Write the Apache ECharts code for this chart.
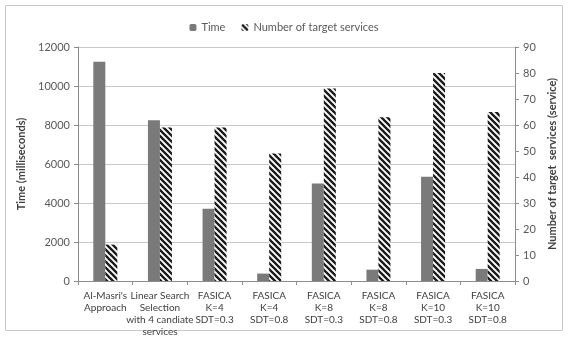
<!DOCTYPE html>
<html>
<head>
<meta charset="utf-8">
<script src="https://cdn.jsdelivr.net/npm/echarts@6/dist/echarts.min.js"></script>
<style>
  html, body { margin: 0; padding: 0; background: #fff; }
  #chart { width: 568px; height: 339px; }
</style>
</head>
<body>
<div id="chart"></div>
<script>
// Approaches compared
const categories = [
  "Al-Masri's\nApproach",
  "Linear Search\nSelection\nwith 4 candiate\nservices",
  "FASICA\nK=4\nSDT=0.3",
  "FASICA\nK=4\nSDT=0.8",
  "FASICA\nK=8\nSDT=0.3",
  "FASICA\nK=8\nSDT=0.8",
  "FASICA\nK=10\nSDT=0.3",
  "FASICA\nK=10\nSDT=0.8"
];
// Execution time (milliseconds), left axis
const timeMs = [11250, 8250, 3700, 380, 5000, 580, 5350, 620];
// Number of target services, right axis
const targetServices = [14, 59, 59, 49, 74, 63, 80, 65];

// Diagonal "\" hatch fill for the service-count bars
function hatchPattern() {
  const s = 6;
  const c = document.createElement('canvas');
  c.width = s; c.height = s;
  const g = c.getContext('2d');
  g.fillStyle = '#ffffff';
  g.fillRect(0, 0, s, s);
  g.strokeStyle = '#1a1a1a';
  g.lineWidth = 2.3;
  g.beginPath();
  // y = x, y = x - s, y = x + s so the stripes join across tiles
  g.moveTo(-1, -1);     g.lineTo(s + 1, s + 1);
  g.moveTo(s - 1, -1);  g.lineTo(2 * s + 1, s + 1);
  g.moveTo(-s - 1, -1); g.lineTo(1, s + 1);
  g.stroke();
  return c;
}

const font = 'Lato, "Open Sans", sans-serif';
const chart = echarts.init(document.getElementById('chart'), null, { renderer: 'canvas' });

chart.setOption({
  animation: false,
  backgroundColor: '#ffffff',
  textStyle: { fontFamily: font },
  graphic: [{
    type: 'rect',
    shape: { x: 5.5, y: 5.5, width: 557, height: 325 },
    style: { fill: 'none', stroke: '#c8c8c8', lineWidth: 1 },
    silent: true
  }],
  legend: {
    top: 17,
    left: 'center',
    itemWidth: 7,
    itemHeight: 7,
    itemGap: 16,
    textStyle: { fontSize: 11, color: '#595959', fontFamily: font },
    data: ['Time', 'Number of target services']
  },
  grid: { left: 78, right: 53, top: 47, bottom: 58, containLabel: false },
  xAxis: {
    type: 'category',
    data: categories,
    axisLine: { lineStyle: { color: '#8c8c8c' } },
    axisTick: { show: true, alignWithLabel: false, length: 4, lineStyle: { color: '#8c8c8c' } },
    axisLabel: {
      interval: 0,
      fontSize: 10,
      lineHeight: 12,
      color: '#404040',
      margin: 9,
      fontFamily: font
    }
  },
  yAxis: [{
    type: 'value',
    min: 0, max: 12000, interval: 2000,
    name: 'Time (milliseconds)',
    nameLocation: 'middle',
    nameRotate: 90,
    nameGap: 42,
    nameTextStyle: { fontSize: 11, fontWeight: 'bold', color: '#404040', fontFamily: font },
    axisLine: { show: true, lineStyle: { color: '#8c8c8c' } },
    axisTick: { show: true, length: 4, lineStyle: { color: '#8c8c8c' } },
    axisLabel: { fontSize: 11, color: '#595959', margin: 8, fontFamily: font, formatter: v => String(v) },
    splitLine: { show: true, lineStyle: { color: '#c8c8c8' } }
  }, {
    type: 'value',
    min: 0, max: 90, interval: 10,
    name: 'Number of target  services (service)',
    nameLocation: 'middle',
    nameRotate: 90,
    nameGap: 31,
    nameTextStyle: { fontSize: 11, fontWeight: 'bold', color: '#404040', fontFamily: font },
    axisLine: { show: true, lineStyle: { color: '#8c8c8c' } },
    axisTick: { show: true, length: 4, lineStyle: { color: '#8c8c8c' } },
    axisLabel: { fontSize: 11, color: '#595959', margin: 8, fontFamily: font },
    splitLine: { show: false }
  }],
  series: [{
    name: 'Time',
    type: 'bar',
    yAxisIndex: 0,
    data: timeMs,
    barWidth: 12,
    barGap: '0%',
    itemStyle: { color: '#7a7a7a' }
  }, {
    name: 'Number of target services',
    type: 'bar',
    yAxisIndex: 1,
    data: targetServices,
    barWidth: 12,
    barGap: '0%',
    itemStyle: { color: { image: hatchPattern(), repeat: 'repeat' } }
  }]
});
</script>
</body>
</html>
